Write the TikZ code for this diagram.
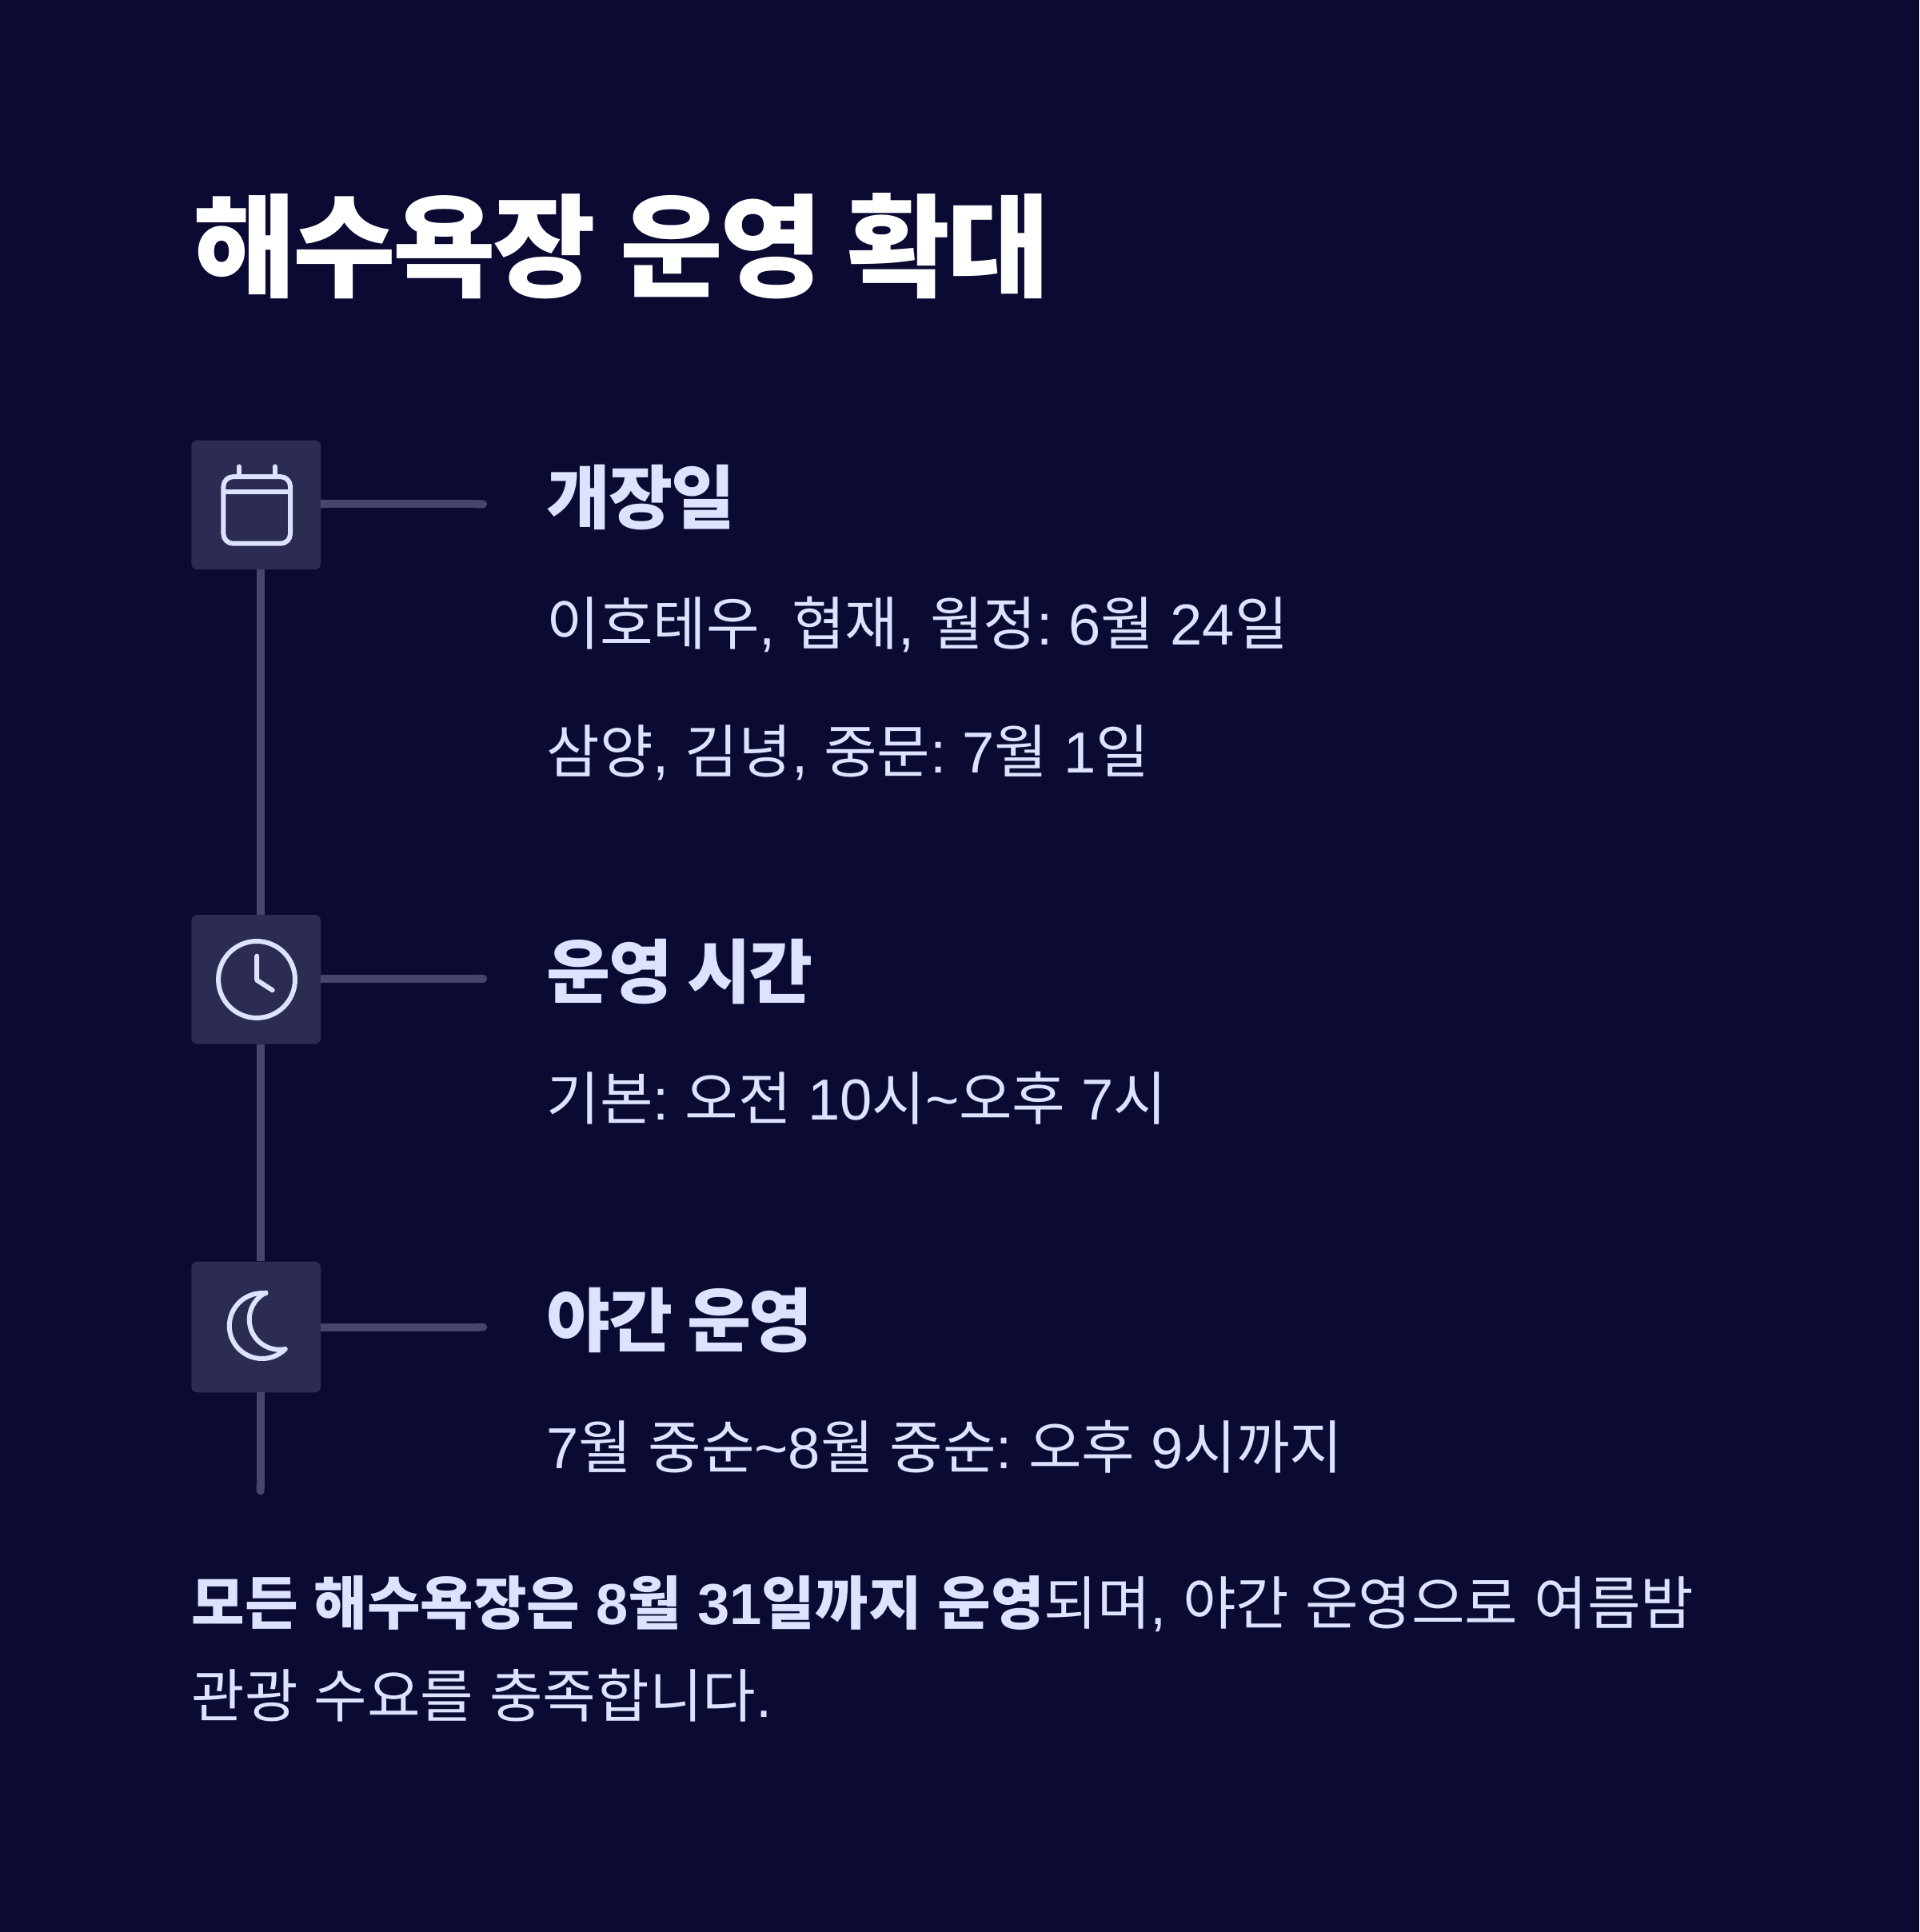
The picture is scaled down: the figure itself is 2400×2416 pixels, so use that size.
\documentclass[tikz,border=0pt]{standalone}
\usepackage{fontspec}
\usetikzlibrary{arrows.meta}
\setmainfont{Liberation Sans}
\newfontfamily\krfont{Noto Sans CJK KR}
\newfontfamily\krtight{Noto Sans CJK KR}[LetterSpace=-2.5]
\newcommand\kr[1]{{\krfont #1}}
\newcommand\titlefont{\fontsize{140}{140}\selectfont\bfseries\let\krfont\krtight\spaceskip=30pt\relax}
\newcommand\headfont{\fontsize{87}{87}\selectfont\bfseries\let\krfont\krtight\spaceskip=17.7pt\relax}
\frenchspacing
\definecolor{pagebg}{HTML}{0B0A33}
\definecolor{boxbg}{HTML}{2C2B51}
\definecolor{linkcol}{HTML}{46456C}
\definecolor{inkcol}{HTML}{DDE3FF}
\tikzset{
  iconbox/.style={fill=boxbg,rounded corners=7pt,minimum width=161.7pt,minimum height=161.7pt,inner sep=0pt},
  link/.style={draw=linkcol,line width=10pt,-{Round Cap[]}},
  icon/.style={draw=inkcol,line width=6pt,line cap=round,line join=round},
  title/.style={anchor=base west,inner sep=0pt,text=white,font=\titlefont},
  heading/.style={anchor=base west,inner sep=0pt,text=inkcol,font=\headfont},
  body/.style={anchor=base west,inner sep=0pt,text=inkcol,font=\fontsize{72.4}{72.4}\selectfont}
}
\begin{document}
\begin{tikzpicture}[x=1pt,y=1pt]%
\fill[pagebg] (-1,-1) rectangle (2401,2417);%
\useasboundingbox (0,0) rectangle (2400,2416);%
\node[title] (maintitle) at (240,2056) {\kr{해수욕장} \kr{운영} \kr{확대}};%

\node[iconbox] (cal) at (319.5,1785.15) {}; %%
\node[iconbox] (clock) at (319.5,1191.15) {}; %%
\node[iconbox,minimum height=163.7pt] (moon) at (319.5,756.15) {}; %%

\coordinate (calend) at (608.7,1786); %%
\coordinate (clockend) at (608.7,1192); %%
\coordinate (moonend) at (608.7,756); %%
\coordinate (railend) at (325,546); %%

\draw[link] (cal.east |- calend)--(calend); %%
\draw[link] (clock.east |- clockend)--(clockend); %%
\draw[link] (moon.east |- moonend)--(moonend); %%
\draw[link,-] ([xshift=5.5pt]cal.south)--([xshift=5.5pt]clock.north); %%
\draw[link,-] ([xshift=5.5pt]clock.south)--([xshift=5.5pt]moon.north); %%
\draw[link] ([xshift=5.5pt]moon.south)--(railend); %%

% calendar
\draw[icon,rounded corners=12pt] (278.7,1736.7) rectangle (362.3,1820.3); %%
\draw[icon] (278.7,1801)--(362.3,1801); %%
\draw[icon] (298.3,1821)--(298.3,1833); %%
\draw[icon] (343,1821)--(343,1833); %%
% clock
\draw[icon] (320.3,1191) circle[radius=48pt]; %%
\draw[icon] (320.5,1220.3)--(320.5,1190.3)--(340,1177.7); %%
% moon
\draw[icon] (331.7,798.3) arc[start angle=83.5,end angle=315,radius=41pt]
  arc[start angle=281.2,end angle=116.8,radius=37.7pt]; %%

\node[heading] (h1) at (683,1762) {\kr{개장일}}; %%
\node[body] (t1) at (683,1610) {\kr{이호테우}, \kr{협재}, \kr{월정}: 6\kr{월} 24\kr{일}}; %%
\node[body] (t2) at (683,1450) {\kr{삼양}, \kr{김녕}, \kr{중문}: 7\kr{월} 1\kr{일}}; %%
\node[heading] (h2) at (683,1168) {\kr{운영} \kr{시간}}; %%
\node[body] (t3) at (683,1015) {\kr{기본}: \kr{오전} 10\kr{시}\textasciitilde\kr{오후} 7\kr{시}}; %%
\node[heading] (h3) at (683,732) {\kr{야간} \kr{운영}}; %%
\node[body] (t4) at (683,579) {7\kr{월} \kr{중순}\textasciitilde8\kr{월} \kr{중순}: \kr{오후} 9\kr{시까지}}; %%
\node[body] (f1) at (238.5,383.5) {\textbf{\kr{모든} \kr{해수욕장은} 8\kr{월} 31\kr{일까지} \kr{운영}}\kr{되며}, \kr{야간} \kr{운영으로} \kr{여름밤}}; %%
\node[body] (f2) at (238.5,267.5) {\kr{관광} \kr{수요를} \kr{충족합니다}.}; %%
\end{tikzpicture}
\end{document}
